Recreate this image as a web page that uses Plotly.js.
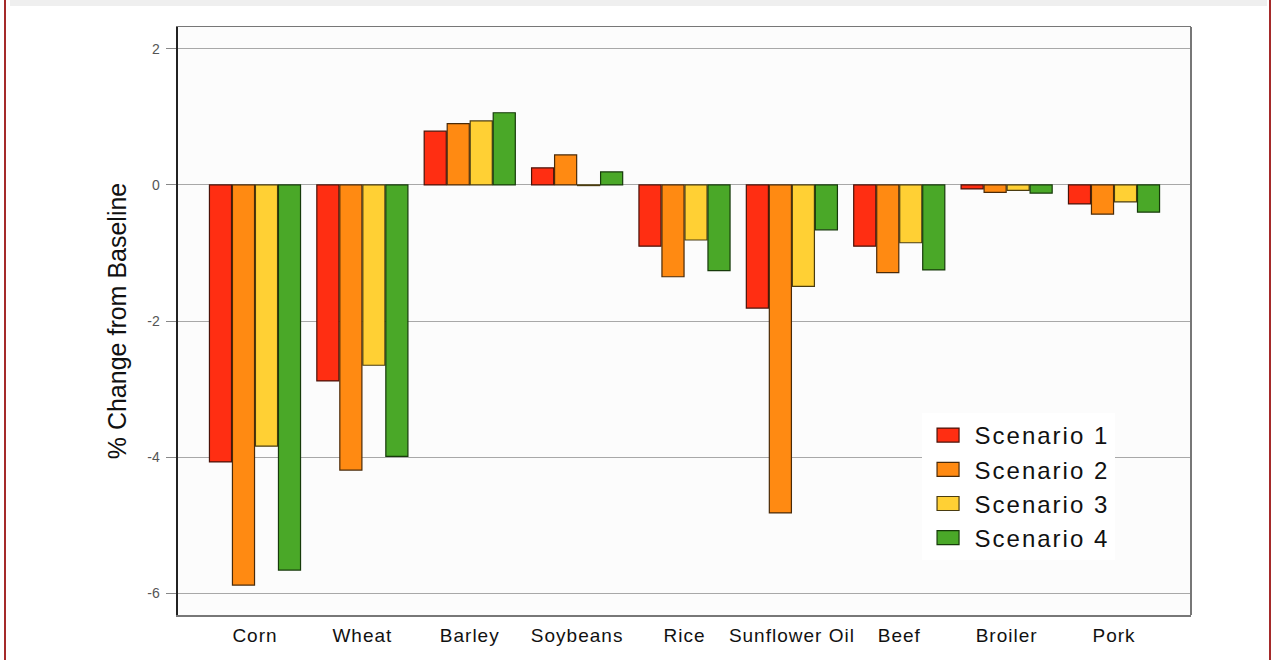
<!DOCTYPE html>
<html>
<head>
<meta charset="utf-8">
<script src="https://cdn.plot.ly/plotly-3.0.1.min.js"></script>
<style>
  html, body { margin: 0; padding: 0; background: #ffffff; }
  #wrap { position: relative; width: 1272px; height: 660px; overflow: hidden; }
  #chart { position: absolute; left: 0; top: 0; width: 1272px; height: 660px; }
  #topband { position: absolute; left: 10px; top: 0; width: 1257px; height: 6px; background: #efefef; pointer-events: none; }
  #lborder { position: absolute; left: 4px; top: 0; width: 2px; height: 660px; background: #a52a2a; pointer-events: none; }
  #rborder { position: absolute; left: 1269px; top: 0; width: 2px; height: 660px; background: #a52a2a; pointer-events: none; }
  .legendtext { letter-spacing: 2px; }
  .xtick text { letter-spacing: 1px; }
</style>
</head>
<body>
<div id="wrap">
  <div id="chart"></div>
  <div id="topband"></div>
  <div id="lborder"></div>
  <div id="rborder"></div>
</div>
<script>
const categories = ["Corn", "Wheat", "Barley", "Soybeans", "Rice", "Sunflower Oil", "Beef", "Broiler", "Pork"];
const seriesNames = ["Scenario 1", "Scenario 2", "Scenario 3", "Scenario 4"];
const scenario1 = [-4.07, -2.88, 0.79, 0.25, -0.90, -1.81, -0.90, -0.06, -0.28];
const scenario2 = [-5.88, -4.19, 0.90, 0.44, -1.35, -4.82, -1.29, -0.11, -0.43];
const scenario3 = [-3.84, -2.65, 0.94, -0.01, -0.81, -1.49, -0.85, -0.08, -0.25];
const scenario4 = [-5.66, -3.99, 1.06, 0.19, -1.26, -0.66, -1.25, -0.12, -0.40];
const yTicks = [-6, -4, -2, 0, 2];

const fills = ["#ff2e12", "#ff8a12", "#ffd034", "#4aa828"];
const edges = ["#4a1208", "#4a2a08", "#4a3c10", "#163a0a"];
const values = [scenario1, scenario2, scenario3, scenario4];

const traces = values.map((v, i) => ({
  type: "bar",
  name: seriesNames[i],
  x: categories,
  y: v,
  marker: { color: fills[i], line: { color: edges[i], width: 1.2 } },
  hoverinfo: "x+y+name"
}));

const layout = {
  width: 1272,
  height: 660,
  margin: { l: 178, r: 81, t: 27, b: 45 },
  paper_bgcolor: "#ffffff",
  plot_bgcolor: "#fcfcfc",
  barmode: "group",
  bargap: 0.143,
  bargroupgap: 0.04,
  font: { family: "Liberation Sans, Arial, sans-serif", color: "#111" },
  xaxis: {
    type: "category",
    range: [-0.717, 8.717],
    showgrid: false,
    zeroline: false,
    showline: true,
    linecolor: "#777",
    linewidth: 1.5,
    mirror: true,
    ticks: "",
    ticklabelstandoff: 3,
    tickfont: { size: 19, color: "#111", family: "Liberation Sans, Arial, sans-serif" },
    fixedrange: true
  },
  yaxis: {
    range: [-6.32, 2.32],
    tickvals: yTicks,
    ticktext: yTicks.map(String),
    showgrid: true,
    gridcolor: "#a8a8a8",
    gridwidth: 1,
    zeroline: true,
    zerolinecolor: "#a8a8a8",
    zerolinewidth: 1.2,
    showline: true,
    linecolor: "#222",
    linewidth: 2.5,
    mirror: false,
    ticks: "outside",
    ticklen: 10,
    tickcolor: "#888",
    tickwidth: 1,
    ticklabelstandoff: 3,
    tickfont: { size: 14, color: "#555", family: "Liberation Sans, Arial, sans-serif" },
    title: { text: "% Change from Baseline", font: { size: 25, color: "#111" }, standoff: 14 },
    fixedrange: true
  },
  shapes: [
    { type: "line", xref: "paper", yref: "paper", x0: 1, x1: 1, y0: 0, y1: 1,
      line: { color: "#777", width: 2 } }
  ],
  legend: {
    x: 0.734, y: 0.3435, xanchor: "left", yanchor: "top",
    bgcolor: "#ffffff",
    borderwidth: 0,
    font: { size: 24, color: "#111", family: "Liberation Sans, Arial, sans-serif" },
    itemwidth: 43,
    tracegroupgap: 0
  },
  showlegend: true
};

Plotly.newPlot("chart", traces, layout, { displayModeBar: false, staticPlot: true }).then(gd => {
  // widen the legend swatches to the reference's rectangular keys
  gd.querySelectorAll(".legendpoints path").forEach(p => {
    p.setAttribute("d", "M11,7H-11V-7H11Z");
  });
});
</script>
</body>
</html>
